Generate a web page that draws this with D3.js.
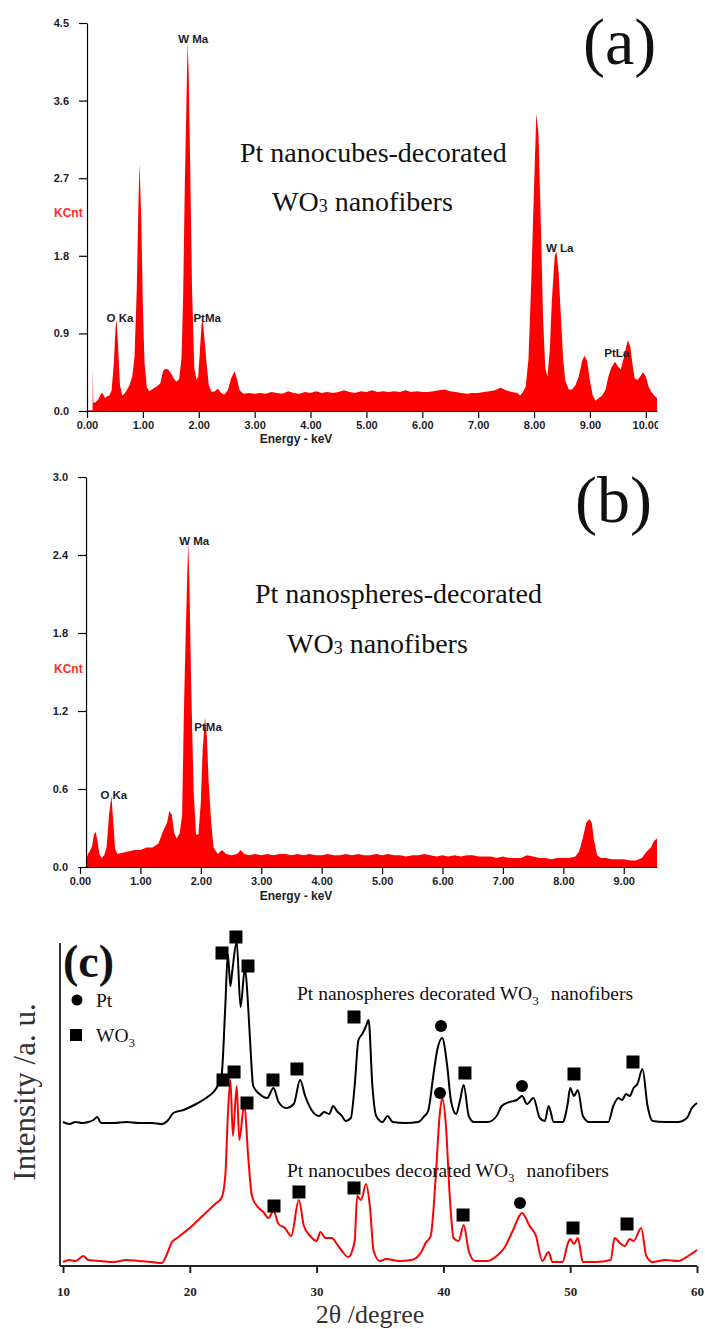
<!DOCTYPE html>
<html>
<head>
<meta charset="utf-8">
<script src="https://cdnjs.cloudflare.com/ajax/libs/d3/7.8.5/d3.min.js"></script>
<style>
	body { margin: 0; background: #fff; }
	svg { display: block; }
	.eds .domain, .eds .tick line { stroke: #000; stroke-width: 1.2; }
	.eds .tick text { font-family: "Liberation Sans", Arial, sans-serif; font-weight: bold; font-size: 11px; fill: #1c1c26; }
	.eds__axis-label { font-family: "Liberation Sans", Arial, sans-serif; font-weight: bold; font-size: 12px; fill: #1c1c26; }
	.eds__unit { font-family: "Liberation Sans", Arial, sans-serif; font-weight: bold; font-size: 12px; fill: #ff2a2a; }
	.eds__peak { font-family: "Liberation Sans", Arial, sans-serif; font-weight: bold; font-size: 11.5px; fill: #1c1c26; }
	.serif { font-family: "Liberation Serif", "Times New Roman", serif; fill: #111; }
	.xrd .domain, .xrd .tick line { stroke: #222; stroke-width: 2; }
	.xrd .tick text { font-family: "Liberation Serif", "Times New Roman", serif; font-weight: bold; font-size: 13px; fill: #222; }
</style>
</head>
<body>
<svg id="chart" width="705" height="1329"></svg>
<script>
(function() {

	// DATA
	// EDS (a) Pt nanocubes-decorated WO3 nanofibers: [keV, KCnt]
	var spectrumA = [
		[0.00,0.01],[0.10,0.01],[0.105,0.50],[0.112,0.10],[0.15,0.10],[0.20,0.13],[0.25,0.20],[0.28,0.21],
		[0.32,0.15],[0.36,0.17],[0.40,0.18],[0.44,0.24],[0.48,0.55],[0.51,0.95],[0.53,1.06],[0.56,0.70],
		[0.59,0.30],[0.63,0.18],[0.67,0.20],[0.71,0.24],[0.76,0.30],[0.81,0.40],[0.85,0.62],[0.89,1.40],
		[0.92,2.40],[0.94,2.87],[0.97,2.25],[1.00,1.20],[1.03,0.55],[1.07,0.28],[1.11,0.23],[1.16,0.25],
		[1.21,0.27],[1.26,0.29],[1.31,0.32],[1.36,0.46],[1.40,0.49],[1.45,0.48],[1.50,0.44],[1.55,0.38],
		[1.60,0.34],[1.65,0.37],[1.69,0.60],[1.72,1.30],[1.75,2.60],[1.78,3.60],[1.80,4.28],[1.82,3.90],
		[1.85,2.70],[1.88,1.40],[1.92,0.50],[1.96,0.36],[1.99,0.40],[2.02,0.70],[2.05,1.00],[2.07,1.06],
		[2.10,0.85],[2.14,0.55],[2.18,0.30],[2.23,0.22],[2.29,0.23],[2.34,0.26],[2.40,0.21],[2.46,0.19],
		[2.52,0.24],[2.58,0.38],[2.64,0.46],[2.68,0.38],[2.73,0.24],[2.80,0.20],[2.90,0.21],[3.00,0.20],
		[3.10,0.21],[3.20,0.20],[3.30,0.22],[3.40,0.21],[3.50,0.20],[3.60,0.23],[3.70,0.21],[3.80,0.20],
		[3.90,0.22],[4.00,0.21],[4.10,0.23],[4.20,0.21],[4.30,0.22],[4.40,0.21],[4.50,0.22],[4.60,0.24],
		[4.70,0.22],[4.80,0.21],[4.90,0.23],[5.00,0.22],[5.10,0.24],[5.20,0.22],[5.30,0.23],[5.40,0.22],
		[5.50,0.23],[5.60,0.22],[5.70,0.24],[5.80,0.22],[5.90,0.23],[6.00,0.22],[6.10,0.22],[6.20,0.23],
		[6.30,0.24],[6.40,0.25],[6.50,0.23],[6.60,0.22],[6.70,0.21],[6.80,0.20],[6.90,0.21],[7.00,0.21],
		[7.10,0.22],[7.20,0.23],[7.30,0.24],[7.40,0.27],[7.50,0.24],[7.60,0.22],[7.70,0.21],[7.75,0.18],
		[7.80,0.22],[7.85,0.28],[7.90,0.60],[7.95,1.50],[8.00,2.60],[8.04,3.45],[8.08,3.20],[8.12,2.20],
		[8.16,1.10],[8.20,0.50],[8.24,0.40],[8.28,0.70],[8.32,1.30],[8.37,1.80],[8.40,1.85],[8.44,1.60],
		[8.48,1.10],[8.52,0.60],[8.56,0.35],[8.62,0.25],[8.68,0.25],[8.74,0.30],[8.80,0.40],[8.86,0.58],
		[8.90,0.64],[8.95,0.58],[9.00,0.35],[9.05,0.18],[9.10,0.12],[9.16,0.15],[9.22,0.18],[9.28,0.25],
		[9.33,0.40],[9.38,0.50],[9.45,0.57],[9.50,0.52],[9.55,0.48],[9.60,0.60],[9.65,0.75],[9.68,0.82],
		[9.72,0.75],[9.76,0.55],[9.80,0.38],[9.85,0.36],[9.90,0.40],[9.95,0.45],[10.00,0.40],[10.05,0.28],
		[10.10,0.22],[10.15,0.18],[10.20,0.15]
	];
	var peaksA = [['W Ma',1.90,4.27],['O Ka',0.59,1.03],['PtMa',2.15,1.03],['W La',8.46,1.84],['PtLa',9.48,0.63]];
	var yTicksA = [0, 0.9, 1.8, 2.7, 3.6, 4.5];
	var xTicksA = [0,1,2,3,4,5,6,7,8,9,10];

	// EDS (b) Pt nanospheres-decorated WO3 nanofibers: [keV, KCnt]
	var spectrumB = [
		[0.10,0.04],[0.13,0.10],[0.16,0.12],[0.20,0.16],[0.23,0.25],[0.26,0.27],[0.29,0.20],[0.32,0.10],
		[0.36,0.07],[0.40,0.09],[0.44,0.15],[0.48,0.40],[0.52,0.55],[0.55,0.35],[0.58,0.14],[0.62,0.10],
		[0.70,0.11],[0.80,0.12],[0.90,0.13],[1.00,0.13],[1.10,0.15],[1.20,0.15],[1.30,0.18],[1.36,0.26],
		[1.40,0.30],[1.44,0.34],[1.48,0.43],[1.52,0.40],[1.56,0.26],[1.60,0.22],[1.65,0.26],[1.69,0.40],
		[1.72,1.20],[1.75,1.80],[1.79,2.50],[1.81,2.20],[1.84,1.40],[1.88,0.60],[1.92,0.25],[1.96,0.25],
		[2.00,0.50],[2.03,0.90],[2.07,1.15],[2.10,1.00],[2.13,0.65],[2.17,0.35],[2.21,0.15],[2.28,0.10],
		[2.35,0.13],[2.42,0.10],[2.50,0.09],[2.60,0.10],[2.66,0.13],[2.72,0.10],[2.80,0.09],[2.90,0.10],
		[3.00,0.09],[3.10,0.10],[3.20,0.09],[3.30,0.10],[3.40,0.10],[3.50,0.09],[3.60,0.10],[3.70,0.09],
		[3.80,0.10],[3.90,0.09],[4.00,0.09],[4.10,0.10],[4.20,0.09],[4.30,0.09],[4.40,0.10],[4.50,0.09],
		[4.60,0.10],[4.70,0.09],[4.80,0.09],[4.90,0.10],[5.00,0.09],[5.10,0.10],[5.20,0.09],[5.30,0.09],
		[5.40,0.08],[5.50,0.09],[5.60,0.09],[5.70,0.10],[5.80,0.09],[5.90,0.08],[6.00,0.09],[6.10,0.08],
		[6.20,0.09],[6.30,0.08],[6.40,0.09],[6.50,0.09],[6.60,0.08],[6.70,0.08],[6.80,0.08],[6.90,0.07],
		[7.00,0.08],[7.10,0.07],[7.20,0.07],[7.30,0.07],[7.40,0.09],[7.50,0.08],[7.60,0.07],[7.70,0.07],
		[7.80,0.06],[7.90,0.07],[8.00,0.07],[8.10,0.07],[8.20,0.08],[8.26,0.12],[8.32,0.22],[8.38,0.34],
		[8.43,0.37],[8.47,0.34],[8.51,0.20],[8.56,0.09],[8.62,0.07],[8.70,0.07],[8.80,0.06],[8.90,0.06],
		[9.00,0.06],[9.10,0.05],[9.20,0.05],[9.30,0.07],[9.38,0.12],[9.45,0.15],[9.50,0.20],[9.55,0.22]
	];
	var peaksB = [['W Ma',1.89,2.48],['PtMa',2.12,1.05],['O Ka',0.56,0.52]];
	var yTicksB = [0, 0.6, 1.2, 1.8, 2.4, 3.0];
	var xTicksB = [0,1,2,3,4,5,6,7,8,9];

	// XRD (c): [2theta, intensity a.u.]
	var xrdSpheres = [
		[10,144],[10.5,142],[11,144],[11.5,143],[12,144],[12.4,146],[12.7,149],[13,143],[14,143],[15,144],
		[16,143],[17,143],[17.8,142],[18.3,146],[18.7,153],[19.5,156],[20.5,162],[21.5,170],[22.0,176],
		[22.5,190],[22.8,260],[23.0,312],[23.2,280],[23.35,295],[23.7,324],[24.0,259],[24.35,298],[24.6,260],
		[24.8,215],[25.0,180],[25.5,172],[26.1,168],[26.6,178],[27.0,164],[27.6,158],[28.2,162],[28.7,186],
		[29.1,170],[29.6,156],[30.2,150],[30.6,154],[31.0,152],[31.3,160],[31.6,155],[32.0,150],[32.3,145],
		[32.7,148],[33.0,180],[33.3,226],[33.6,232],[33.9,240],[34.1,246],[34.4,180],[34.7,150],[35.2,144],
		[35.6,150],[36.0,144],[37.0,143],[38.0,144],[38.5,150],[38.8,155],[39.2,190],[39.5,215],[39.9,228],
		[40.3,200],[40.6,165],[41.0,152],[41.3,165],[41.6,181],[42.0,150],[42.4,144],[43.5,144],[44.2,150],
		[44.6,160],[45.2,164],[45.8,166],[46.2,170],[46.6,162],[47.1,168],[47.6,148],[48.0,145],[48.3,160],
		[48.7,144],[49.4,144],[49.8,162],[50.0,178],[50.3,170],[50.6,176],[51.0,150],[51.5,144],[53.0,144],
		[53.4,160],[53.8,168],[54.1,166],[54.4,172],[54.7,170],[55.0,178],[55.3,182],[55.7,197],[56.1,160],
		[56.5,145],[57.5,144],[58.5,144],[59.2,148],[59.6,158],[60.0,163]
	];
	var xrdCubes = [
		[10,4],[10.5,6],[11,5],[11.6,10],[12,6],[13,5],[14,4],[15,6],[16,5],[17,4],[17.8,3],[18.2,12],
		[18.6,24],[19.0,28],[19.5,33],[20.0,38],[20.5,44],[21.0,50],[21.5,56],[22.0,62],[22.5,68],[22.8,90],
		[23.0,150],[23.2,186],[23.4,130],[23.7,180],[23.9,126],[24.3,162],[24.6,110],[24.9,70],[25.3,60],
		[25.8,54],[26.2,48],[26.6,55],[27.0,42],[27.5,38],[28.0,30],[28.6,66],[29.0,40],[29.5,30],[30.0,25],
		[30.3,34],[30.7,28],[31.2,28],[31.6,22],[32.0,15],[32.5,9],[33.0,25],[33.2,70],[33.5,66],[33.9,82],
		[34.2,60],[34.5,15],[35.0,5],[35.5,7],[36.5,5],[37.5,6],[38.3,15],[38.6,23],[39.0,30],[39.4,90],
		[39.7,150],[39.9,168],[40.2,140],[40.5,70],[40.8,28],[41.2,25],[41.6,41],[42.0,15],[42.5,5],[43.5,5],
		[44.2,10],[44.8,18],[45.5,36],[46.2,53],[46.8,40],[47.3,30],[47.8,5],[48.3,14],[48.6,4],[49.4,4],
		[49.8,22],[50.0,27],[50.3,22],[50.6,28],[51.0,4],[52.0,4],[53.2,6],[53.5,28],[54.0,22],[54.3,20],
		[54.7,27],[55.0,25],[55.6,38],[56.0,10],[56.5,4],[57.5,6],[58.5,5],[59.3,10],[60.0,16]
	];
	var spheresWO3 = [[22.54,313],[23.64,329],[24.59,300],[26.56,186],[28.45,197],[32.95,249],[41.70,193],[50.30,192],[54.95,204]];
	var spheresPt = [[39.81,240],[46.2,180]];
	var cubesWO3 = [[22.62,186],[23.49,194],[24.51,163],[26.64,60],[28.61,74],[32.95,78],[41.55,51],[50.22,38],[54.48,42]];
	var cubesPt = [[39.73,173],[46.04,63]];
	var xTicksC = [10, 20, 30, 40, 50, 60];

	var svg = d3.select('#chart');

	// EDS PANEL
	function drawEds(opts) {
		var g = svg.append('g').attr('class', 'eds');

		var x = d3.scaleLinear().domain(opts.xDomain).range(opts.xRange);
		var y = d3.scaleLinear().domain(opts.yDomain).range(opts.yRange);

		var area = d3.area()
			.x(function(d) { return x(d[0]); })
			.y0(y(0))
			.y1(function(d) { return y(d[1]); });

		g.append('path')
			.datum(opts.data)
			.attr('d', area)
			.attr('fill', '#ff0000');

		var clipId = 'clip-' + opts.id;
		svg.append('clipPath').attr('id', clipId)
			.append('rect')
			.attr('x', 0).attr('y', 0)
			.attr('width', opts.xRange[1] + 1).attr('height', 1329);

		g.append('g')
			.attr('transform', 'translate(0,' + y(0) + ')')
			.attr('clip-path', 'url(#' + clipId + ')')
			.call(d3.axisBottom(x)
				.tickValues(opts.xTicks)
				.tickFormat(d3.format('.2f'))
				.tickSizeInner(7)
				.tickSizeOuter(0)
				.tickPadding(3));

		g.append('g')
			.attr('transform', 'translate(' + x(opts.yAxisAt) + ',0)')
			.call(d3.axisLeft(y)
				.tickValues(opts.yTicks)
				.tickFormat(d3.format('.1f'))
				.tickSizeInner(8)
				.tickSizeOuter(0)
				.tickPadding(10));

		g.append('text')
			.attr('class', 'eds__unit')
			.attr('x', 54)
			.attr('y', opts.unitY)
			.text('KCnt');

		g.append('text')
			.attr('class', 'eds__axis-label')
			.attr('x', 296)
			.attr('y', opts.titleY)
			.attr('text-anchor', 'middle')
			.text('Energy - keV');

		g.selectAll('.eds__peak')
			.data(opts.peaks)
			.enter()
			.append('text')
			.attr('class', 'eds__peak')
			.attr('text-anchor', 'middle')
			.attr('x', function(d) { return x(d[1]); })
			.attr('y', function(d) { return y(d[2]); })
			.text(function(d) { return d[0]; });

		var note = g.append('g').attr('class', 'serif');
		note.append('text')
			.attr('class', 'serif')
			.attr('x', opts.noteX[0])
			.attr('y', opts.noteY[0])
			.style('font-size', '28px')
			.text(opts.note);

		var wo = note.append('text')
			.attr('class', 'serif')
			.attr('x', opts.noteX[1])
			.attr('y', opts.noteY[1])
			.style('font-size', '28px');
		wo.append('tspan').text('WO');
		wo.append('tspan').style('font-size', '18px').attr('dy', 1).text('3');
		wo.append('tspan').attr('dy', -1).attr('dx', 7).text('nanofibers');

		g.append('text')
			.attr('class', 'serif')
			.attr('x', opts.tagX)
			.attr('y', opts.tagY)
			.style('font-size', '66px')
			.text(opts.tag);
	}

	// XRD PANEL
	function drawXrd() {
		var g = svg.append('g').attr('class', 'xrd');

		var x = d3.scaleLinear().domain([10, 60]).range([63, 697]);
		var y = d3.scaleLinear().domain([0, 323]).range([1266, 943]);

		var line = d3.line()
			.x(function(d) { return x(d[0]); })
			.y(function(d) { return y(d[1]); })
			.curve(d3.curveMonotoneX);

		g.append('path').datum(xrdSpheres)
			.attr('d', line).attr('fill', 'none')
			.attr('stroke', '#000').attr('stroke-width', 2);

		g.append('path').datum(xrdCubes)
			.attr('d', line).attr('fill', 'none')
			.attr('stroke', '#ff0000').attr('stroke-width', 2);

		// axes
		g.append('line')
			.attr('x1', 60).attr('x2', 60)
			.attr('y1', y(323)).attr('y2', y(0))
			.attr('stroke', '#333').attr('stroke-width', 2);

		var xAxis = g.append('g')
			.attr('transform', 'translate(0,' + y(0) + ')')
			.call(d3.axisBottom(x)
				.tickValues(xTicksC)
				.tickFormat(d3.format('d'))
				.tickSizeInner(7)
				.tickSizeOuter(0)
				.tickPadding(23));
		xAxis.select('.domain').attr('d', 'M60,0H' + x(60));
		xAxis.selectAll('.tick text').attr('dy', '0');

		// phase markers
		var squares = spheresWO3.concat(cubesWO3);
		var circles = spheresPt.concat(cubesPt);

		g.selectAll('.marker--sq')
			.data(squares)
			.enter()
			.append('rect')
			.attr('class', 'marker--sq')
			.attr('x', function(d) { return x(d[0]) - 6.5; })
			.attr('y', function(d) { return y(d[1]) - 6.5; })
			.attr('width', 13)
			.attr('height', 13)
			.attr('fill', '#000');

		g.selectAll('.marker--ci')
			.data(circles)
			.enter()
			.append('circle')
			.attr('class', 'marker--ci')
			.attr('cx', function(d) { return x(d[0]); })
			.attr('cy', function(d) { return y(d[1]); })
			.attr('r', 6)
			.attr('fill', '#000');

		// legend
		g.append('circle').attr('cx', 77).attr('cy', 1000).attr('r', 5.5).attr('fill', '#000');
		g.append('rect').attr('x', 70).attr('y', 1029).attr('width', 12).attr('height', 12).attr('fill', '#000');
		g.append('text').attr('class', 'serif').attr('x', 96).attr('y', 1007)
			.style('font-size', '19.5px').text('Pt');
		var lw = g.append('text').attr('class', 'serif').attr('x', 96).attr('y', 1042)
			.style('font-size', '19.5px');
		lw.append('tspan').text('WO');
		lw.append('tspan').style('font-size', '13px').attr('dy', 5).text('3');

		// trace names
		function traceName(xPos, yPos, name) {
			var t = g.append('text').attr('class', 'serif')
				.attr('x', xPos).attr('y', yPos)
				.style('font-size', '19.5px');
			t.append('tspan').text(name + ' decorated WO');
			t.append('tspan').style('font-size', '13px').attr('dy', 5).text('3');
			t.append('tspan').attr('dy', -5).attr('dx', 12).text('nanofibers');
		}
		traceName(297, 1000, 'Pt nanospheres');
		traceName(287, 1177, 'Pt nanocubes');

		g.append('text')
			.attr('class', 'serif')
			.attr('x', 63).attr('y', 977)
			.style('font-size', '46px')
			.style('font-weight', 'bold')
			.text('(c)');

		g.append('text')
			.attr('class', 'serif')
			.attr('transform', 'translate(35,1092)rotate(-90)')
			.attr('text-anchor', 'middle')
			.style('font-size', '31px')
			.style('fill', '#333')
			.text('Intensity /a. u.');

		g.append('text')
			.attr('class', 'serif')
			.attr('x', 370).attr('y', 1323)
			.attr('text-anchor', 'middle')
			.style('font-size', '26px')
			.style('fill', '#333')
			.text('2\u03b8 /degree');
	}

	function init() {
		drawEds({
			id: 'a', data: spectrumA, peaks: peaksA,
			xDomain: [0, 10.2], xRange: [87, 657],
			yDomain: [0, 4.5], yRange: [411, 23],
			xTicks: xTicksA, yTicks: yTicksA, yAxisAt: 0,
			unitY: 217, titleY: 443,
			note: 'Pt nanocubes-decorated', noteX: [240, 272], noteY: [162, 211],
			tag: '(a)', tagX: 583, tagY: 64
		});
		drawEds({
			id: 'b', data: spectrumB, peaks: peaksB,
			xDomain: [0, 9.55], xRange: [80, 657],
			yDomain: [0, 3.0], yRange: [867, 477],
			xTicks: xTicksB, yTicks: yTicksB, yAxisAt: 0.1,
			unitY: 673, titleY: 900,
			note: 'Pt nanospheres-decorated', noteX: [255, 287], noteY: [603, 653],
			tag: '(b)', tagX: 575, tagY: 522
		});
		drawXrd();
	}

	init()
})()
</script>
</body>
</html>
